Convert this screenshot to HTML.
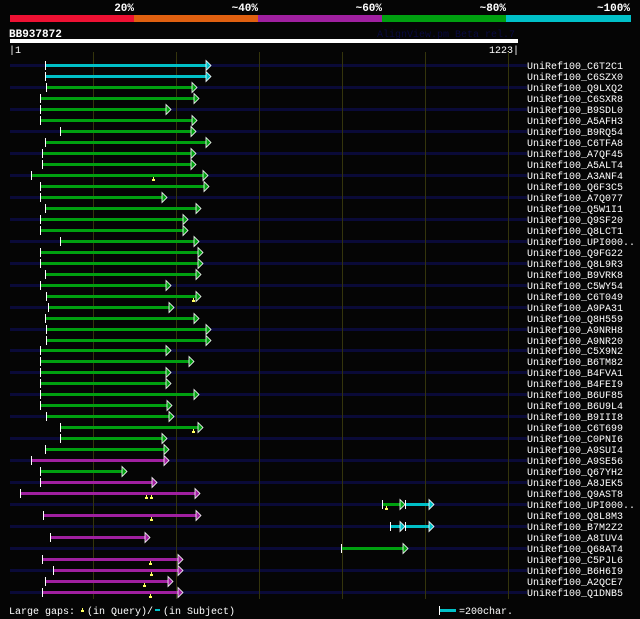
<!DOCTYPE html>
<html><head><meta charset="utf-8"><style>
html,body{margin:0;padding:0;background:#050505;}
svg{display:block;font-family:"Liberation Mono","DejaVu Sans Mono",monospace;}
</style></head><body>
<svg id="chart" width="640" height="619" viewBox="0 0 640 619" shape-rendering="crispEdges">
<rect x="0" y="0" width="640" height="619" fill="#050505"/>
<g>
<rect x="10" y="15" width="124" height="7" fill="#ee1133"/>
<rect x="134" y="15" width="124" height="7" fill="#e06010"/>
<rect x="258" y="15" width="124" height="7" fill="#a020a0"/>
<rect x="382" y="15" width="124" height="7" fill="#00a010"/>
<rect x="506" y="15" width="125" height="7" fill="#00c0c8"/>
<g font-size="11" font-weight="bold" fill="#fff" text-anchor="end">
<text x="134" y="11">20%</text>
<text x="258" y="11">~40%</text>
<text x="382" y="11">~60%</text>
<text x="506" y="11">~80%</text>
<text x="630" y="11">~100%</text>
</g>
</g>
<text x="9" y="37" font-size="11" font-weight="bold" fill="#fff">BB937872</text>
<text x="515" y="37" font-size="10" fill="#0a0a40" text-anchor="end">AlignView.pm Beta rel.7</text>
<rect x="10" y="39" width="508" height="4" fill="#fff"/>
<text x="9" y="53" font-size="10" fill="#fff">|1</text>
<text x="519" y="53" font-size="10" fill="#fff" text-anchor="end">1223|</text>
<g id="bands"></g>
<g id="grid"></g>
<g id="rows"></g>
<g>
<text x="9" y="614" font-size="10" fill="#fff">Large gaps:</text>
<path d="M81 610 h1 v-2 h1 v2 h1 v2 h-3z" fill="#ffff60"/>
<text x="87" y="614" font-size="10" fill="#fff">(in Query)/</text>
<rect x="155" y="609" width="5" height="2" fill="#00c0c8"/>
<text x="163" y="614" font-size="10" fill="#fff">(in Subject)</text>
<rect x="439" y="606" width="1" height="9" fill="#fff"/>
<rect x="440" y="609" width="16" height="3" fill="#00c0c8"/>
<text x="459" y="614" font-size="10" fill="#fff">=200char.</text>
</g>
</svg>
<script>
const QUERY_LEN = 1223;
const names = ["UniRef100_C6T2C1","UniRef100_C6SZX0","UniRef100_Q9LXQ2","UniRef100_C6SXR8","UniRef100_B9SDL0","UniRef100_A5AFH3","UniRef100_B9RQ54","UniRef100_C6TFA8","UniRef100_A7QF45","UniRef100_A5ALT4","UniRef100_A3ANF4","UniRef100_Q6F3C5","UniRef100_A7Q077","UniRef100_Q5W1I1","UniRef100_Q9SF20","UniRef100_Q8LCT1","UniRef100_UPI000..","UniRef100_Q9FG22","UniRef100_Q8L9R3","UniRef100_B9VRK8","UniRef100_C5WY54","UniRef100_C6T049","UniRef100_A9PA31","UniRef100_Q8H559","UniRef100_A9NRH8","UniRef100_A9NR20","UniRef100_C5X9N2","UniRef100_B6TM82","UniRef100_B4FVA1","UniRef100_B4FEI9","UniRef100_B6UF85","UniRef100_B6U9L4","UniRef100_B9III8","UniRef100_C6T699","UniRef100_C0PNI6","UniRef100_A9SUI4","UniRef100_A9SE56","UniRef100_Q67YH2","UniRef100_A8JEK5","UniRef100_Q9AST8","UniRef100_UPI000..","UniRef100_Q8L8M3","UniRef100_B7M2Z2","UniRef100_A8IUV4","UniRef100_Q68AT4","UniRef100_C5PJL6","UniRef100_B6H6I9","UniRef100_A2QCE7","UniRef100_Q1DNB5"];
// segments per row: [start residue, end residue, identity class]
const segStarts = [[84],[84],[87],[72],[72],[72],[120],[84],[77],[77],[51],[72],[72],[84],[72],[72],[120],[72],[72],[84],[72],[87],[91],[84],[87],[87],[72],[72],[72],[72],[72],[72],[87],[120],[120],[84],[51],[72],[72],[24],[895,951],[79],[915,951],[96],[797],[77],[104],[84],[77]];
const segEnds = [[484],[484],[450],[455],[388],[450],[448],[484],[448],[448],[477],[479],[378],[460],[428],[428],[455],[465],[465],[460],[388],[460],[395],[455],[484],[484],[388],[443],[388],[388],[455],[390],[395],[465],[378],[383],[383],[282],[354],[457],[951,1020],[460],[951,1020],[337],[958],[416],[416],[392],[416]];
const segClass = [[100],[100],[80],[80],[80],[80],[80],[80],[80],[80],[80],[80],[80],[80],[80],[80],[80],[80],[80],[80],[80],[80],[80],[80],[80],[80],[80],[80],[80],[80],[80],[80],[80],[80],[80],[80],[60],[80],[60],[60],[80,100],[60],[100,100],[60],[80],[60],[60],[60],[60]];
const gapRows = [10,21,33,39,39,40,41,45,46,47,48];
const gapPos = [344,440,440,327,339,905,339,337,339,323,337];
const gridTicks = [200,400,600,800,1000,1200];
const colors = {20:"#ee1133",40:"#e06010",60:"#a020a0",80:"#00a010",100:"#00c0c8"};

const X0 = 10, X1 = 518;
function xs(r){ return Math.round(X0 + (r / QUERY_LEN) * (X1 - X0)); }
function ys(i){ return Math.round(65 + i * 10.98); }
const NS = "http://www.w3.org/2000/svg";
function mk(tag, attrs, parent){ const e = document.createElementNS(NS, tag); for (const k in attrs) e.setAttribute(k, attrs[k]); parent.appendChild(e); return e; }

const rowsG = document.getElementById('rows');
const gridG = document.getElementById('grid');
const bandsG = document.getElementById('bands');
names.forEach((n, i) => {
  if (i % 2 === 0) {
    const bg = mk('rect', {x: 10, y: ys(i) - 1, width: 517, height: 3, fill: '#0a0a38'}, bandsG);
    
    
  }
});
gridTicks.forEach(t => {
  const l = mk('rect', {x: xs(t), y: 52, width: 1, height: 547, fill: '#34340c'}, gridG);
  
  
});
names.forEach((n, i) => {
  const y = ys(i);
  const g = mk('g', {}, rowsG);
  
  
  segStarts[i].forEach((s, j) => {
    const e = segEnds[i][j];
    const c = colors[segClass[i][j]];
    const sx = xs(s), ex = xs(e);
    const bar = mk('rect', {x: sx, y: y - 1, width: Math.max(0, ex - 4 - sx), height: 3, fill: c}, g);
    
    
    const tri = mk('path', {d: `M${ex-5} ${y-4.5} L${ex} ${y+0.5} L${ex-5} ${y+5.5} Z`, fill: c, stroke: '#fff', 'stroke-width': 0.8, 'shape-rendering': 'auto'}, g);
    
    
    const tick = mk('rect', {x: sx, y: y - 4, width: 1, height: 9, fill: '#fff'}, g);
    
    
  });
  const t = mk('text', {x: 527, y: y + 4, 'font-size': 10, fill: '#fff'}, g);
  t.textContent = n;
  
  
});
gapRows.forEach((r, k) => {
  const x = xs(gapPos[k]), y = ys(r);
  const m = mk('path', {d: `M${x-1} ${y+6} v-2 h1 v-2 h1 v2 h1 v2 z`, fill: '#ffff60'}, rowsG);
  
  
});
</script>
</body></html>
